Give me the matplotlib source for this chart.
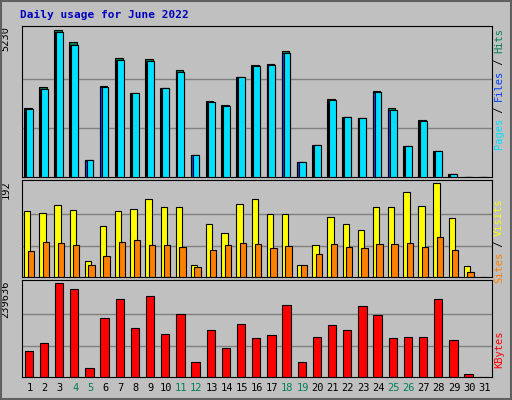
import numpy as np
import matplotlib.pyplot as plt

days = np.arange(1, 32)
weekends = [4, 5, 11, 12, 18, 19, 25, 26]

pages = [2419, 3131, 5180, 4720, 605, 3202, 4163, 2989, 4127, 3167, 3736, 783, 2669, 2526, 3558,
         3949, 3985, 4412, 534, 1139, 2740, 2135, 2099, 3024, 2384, 1103, 1992, 925, 107, 0, 0]
files = [2419, 3131, 5180, 4720, 605, 3202, 4163, 2989, 4127, 3167, 3736, 783, 2669, 2526, 3558,
         3949, 3985, 4412, 534, 1139, 2740, 2135, 2099, 3024, 2384, 1103, 1992, 925, 107, 0, 0]
hits = [2460, 3210, 5230, 4800, 605, 3250, 4240, 2989, 4200, 3167, 3800, 783, 2720, 2570, 3558,
        4000, 4020, 4480, 534, 1139, 2800, 2135, 2099, 3080, 2450, 1103, 2040, 925, 107, 0, 0]
visits = [134, 130, 147, 136, 33, 103, 134, 138, 159, 142, 142, 25, 109, 89, 149,
          159, 128, 128, 25, 66, 122, 109, 95, 142, 142, 173, 145, 192, 120, 23, 0]
sites = [52, 72, 70, 66, 25, 43, 72, 76, 66, 66, 62, 21, 56, 66, 70,
         68, 60, 64, 25, 47, 68, 62, 60, 68, 68, 70, 62, 81, 56, 10, 0]
kbytes = [65125, 85965, 239636, 224030, 23445, 151090, 197980, 125040, 205795, 109410, 161510,
          39075, 119830, 72940, 135460, 98990, 106805, 182350, 39075, 101595, 132855, 119830,
          179745, 158905, 98990, 101595, 101595, 197980, 93780, 7815, 0]

bg = '#c0c0c0'
fig = plt.figure(figsize=(5.12, 4.0), dpi=100, facecolor=bg)
W, H = 512, 400

def mk_ax(top, bottom, ymax):
    ax = fig.add_axes([22 / W, 1 - bottom / H, 470 / W, (bottom - top) / H], facecolor=bg)
    ax.set_xlim(0.5, 31.5)
    ax.set_ylim(0, ymax * 1.03)
    for g in (ymax / 3, 2 * ymax / 3):
        ax.axhline(g, color='#808080', lw=1, zorder=0)
    ax.set_xticks([])
    ax.set_yticks([])
    for s in ax.spines.values():
        s.set_color('black')
    ax.text(-0.035, 1.0, str(ymax), transform=ax.transAxes, rotation=90, ha='center', va='top',
            family='DejaVu Sans Mono', fontsize=7.5)
    return ax

kw = dict(edgecolor='black', linewidth=0.8)
ax1 = mk_ax(26, 177, 5230)
ax1.bar(days - 0.12, hits, width=0.5, color='#00805c', zorder=2, **kw)
ax1.bar(days - 0.08, files, width=0.5, color='#0040ff', zorder=3, **kw)
ax1.bar(days - 0.02, pages, width=0.45, color='#00e0ff', zorder=4, **kw)

ax2 = mk_ax(180, 277, 192)
ax2.bar(days - 0.15, visits, width=0.42, color='#ffff00', zorder=2, **kw)
ax2.bar(days + 0.08, sites, width=0.42, color='#ff8000', zorder=3, **kw)

ax3 = mk_ax(280, 377, 239636)
ax3.bar(days - 0.05, kbytes, width=0.55, color='#ff0000', zorder=2, **kw)

for d in days:
    fig.text((22 + (d - 0.5) / 31 * 470) / W, 1 - 388 / H, str(d), ha='center', va='center',
             family='DejaVu Sans Mono', fontsize=7.5,
             color='#00805c' if d in weekends else 'black')

fig.text(20 / W, 1 - 15 / H, 'Daily usage for June 2022', color='#0000c0', fontweight='bold',
         family='DejaVu Sans Mono', fontsize=8, va='center')

def side_label(y_top, parts):
    # parts listed bottom to top
    x = 499 / W
    ch = 6.0
    pos = y_top
    for i, (p, c) in enumerate(parts[::-1]):
        fig.text(x, 1 - pos / H, p, rotation=90, color=c, ha='center', va='top',
                 family='DejaVu Sans Mono', fontsize=7.5)
        pos += len(p) * ch
        if i < len(parts) - 1:
            fig.text(x, 1 - pos / H, ' / ', rotation=90, color='black', ha='center', va='top',
                     family='DejaVu Sans Mono', fontsize=7.5)
            pos += 3 * ch

side_label(28, [('Pages', '#00e0ff'), ('Files', '#0040ff'), ('Hits', '#00805c')])
side_label(198, [('Sites', '#ff8000'), ('Visits', '#ffff00')])
side_label(330, [('KBytes', '#ff0000')])

fig.patches.append(plt.Rectangle((0.002, 0.002), 0.996, 0.996, transform=fig.transFigure,
                                 fill=False, edgecolor='#606060', lw=1.5))
fig.savefig('out.png', dpi=100, facecolor=bg)
